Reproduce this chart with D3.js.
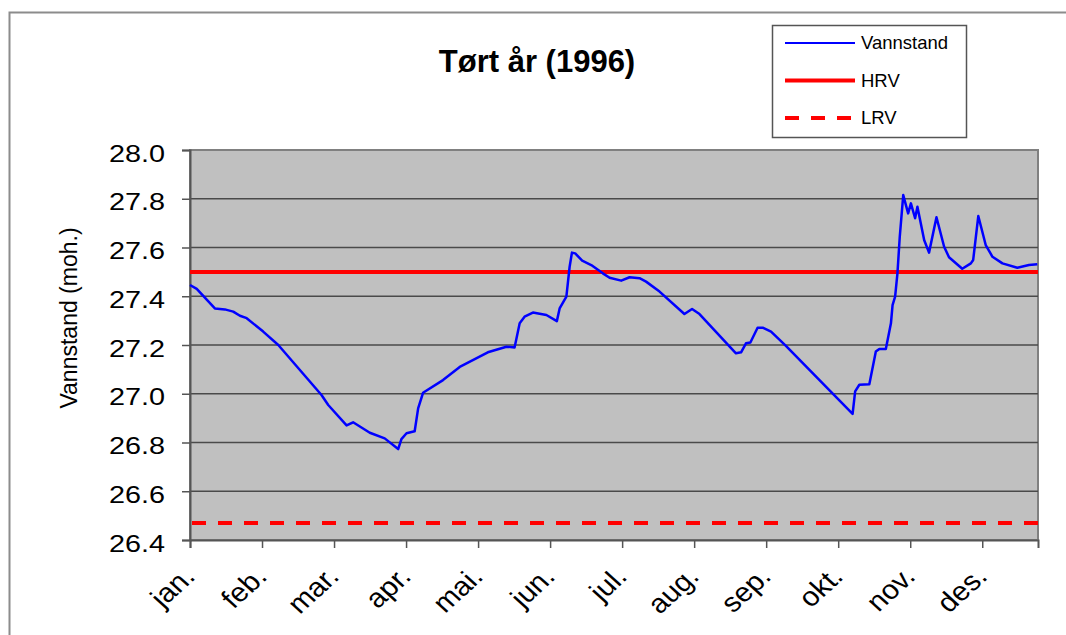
<!DOCTYPE html>
<html>
<head>
<meta charset="utf-8">
<script src="https://cdn.jsdelivr.net/npm/d3@7"></script>
<style>
  body { margin: 0; background: #fff; }
  text { font-family: "Liberation Sans", Arial, sans-serif; }
</style>
</head>
<body>
<div id="chart"></div>
<script>
// data: day of year (0 = 1 jan) and water level
var days = [0, 2.9, 10.7, 15, 18.6, 21.5, 24.4, 31.5, 38, 56.6, 59.5, 67.4, 70.2, 77.4, 83.8, 89.6,
  91, 93.2, 96.7, 98.2, 100.3, 108.9, 116.1, 128.2, 136.2, 139.7, 141.9, 144, 147.6, 153.4, 157.9,
  159.1, 162, 163.4, 164.4, 165.8, 168.8, 172.7, 177.7, 180.6, 185.6, 189.2, 193.5, 196.3, 202.1,
  212.8, 216.1, 219.3, 235, 237.2, 239.3, 241.2, 244.3, 246.5, 250.1, 256.5, 285.2, 286.3, 288.1,
  292.4, 295.2, 296.7, 299.5, 301.7, 302.4, 303.5, 304.5, 305.5, 307, 309.1, 310.3, 312.1, 313.1,
  316, 318.1, 321.3, 324.6, 326.7, 332.4, 336.1, 337.1, 339.3, 342.5, 345.4, 349.7, 356.1, 361.1, 364.7];
var vannstand = [27.446, 27.43, 27.35, 27.346, 27.337, 27.32, 27.31, 27.255, 27.2, 26.995, 26.954, 26.87,
  26.883, 26.84, 26.817, 26.773, 26.814, 26.838, 26.846, 26.94, 27.004, 27.056, 27.11, 27.17, 27.193,
  27.19, 27.289, 27.316, 27.333, 27.323, 27.298, 27.35, 27.398, 27.521, 27.579, 27.576, 27.546, 27.528,
  27.494, 27.476, 27.464, 27.478, 27.474, 27.46, 27.419, 27.327, 27.348, 27.327, 27.166, 27.17, 27.207,
  27.21, 27.271, 27.271, 27.255, 27.196, 26.917, 27.01, 27.037, 27.039, 27.173, 27.184, 27.184, 27.289,
  27.364, 27.398, 27.494, 27.644, 27.815, 27.74, 27.781, 27.72, 27.767, 27.631, 27.579, 27.724, 27.603,
  27.56, 27.513, 27.535, 27.549, 27.729, 27.61, 27.562, 27.535, 27.517, 27.528, 27.531];
var hrv = 27.5;
var lrv = 26.47;
var months = ['jan.', 'feb.', 'mar.', 'apr.', 'mai.', 'jun.', 'jul.', 'aug.', 'sep.', 'okt.', 'nov.', 'des.'];
var monthTickDays = [0, 31, 62, 93, 124, 155, 186, 217, 248, 279, 310, 341];
var yTicks = [26.4, 26.6, 26.8, 27.0, 27.2, 27.4, 27.6, 27.8, 28.0];
var legendNames = ['Vannstand', 'HRV', 'LRV'];

var width = 1066, height = 635;
var plotLeft = 190, plotRight = 1038, plotTop = 150, plotBottom = 540;

var svg = d3.select('#chart').append('svg')
  .attr('width', width)
  .attr('height', height);

svg.append('rect').attr('width', width).attr('height', height).attr('fill', '#fff');

// outer chart border
svg.append('rect')
  .attr('x', 9.5).attr('y', 12.5)
  .attr('width', 1200).attr('height', 800)
  .attr('fill', 'none')
  .attr('stroke', '#8c8c8c')
  .attr('stroke-width', 2);

var x = d3.scaleLinear().domain([0, 365]).range([plotLeft, plotRight]);
var y = d3.scaleLinear().domain([26.4, 28.0]).range([plotBottom, plotTop]);

// plot area
svg.append('rect')
  .attr('x', plotLeft).attr('y', plotTop)
  .attr('width', plotRight - plotLeft).attr('height', plotBottom - plotTop)
  .attr('fill', '#c0c0c0')
  .attr('stroke', '#808080')
  .attr('stroke-width', 2);

// grid lines
svg.append('g').selectAll('line')
  .data(yTicks.slice(1, -1))
  .enter().append('line')
  .attr('x1', plotLeft).attr('x2', plotRight)
  .attr('y1', function (d) { return y(d); })
  .attr('y2', function (d) { return y(d); })
  .attr('stroke', '#4a4a4a')
  .attr('stroke-width', 1.5);

// y axis
var yAxis = svg.append('g')
  .attr('transform', 'translate(' + plotLeft + ',0)')
  .call(d3.axisLeft(y).tickValues(yTicks).tickFormat(d3.format('.1f')).tickSize(8).tickPadding(6));
yAxis.select('.domain').attr('stroke', '#555').attr('stroke-width', 2);
yAxis.selectAll('.tick line').attr('stroke', '#555').attr('stroke-width', 1.5);
yAxis.selectAll('.tick text')
  .attr('font-size', 24)
  .attr('fill', '#000')
  .attr('x', null).attr('dy', null)
  .attr('dominant-baseline', 'central')
  .attr('transform', 'translate(-25,3) scale(1.2,1)');

// x axis
var xAxis = svg.append('g')
  .attr('transform', 'translate(0,' + plotBottom + ')')
  .call(d3.axisBottom(x).tickValues(monthTickDays)
    .tickFormat(function (d, i) { return months[i]; })
    .tickSize(8));
xAxis.select('.domain').attr('stroke', '#555').attr('stroke-width', 2);
xAxis.selectAll('.tick line').attr('stroke', '#555').attr('stroke-width', 1.5);
xAxis.selectAll('.tick text')
  .attr('font-size', 27)
  .attr('fill', '#000')
  .attr('y', null).attr('dy', null)
  .attr('text-anchor', 'end')
  .attr('transform', 'translate(6,38) scale(1.1,1) rotate(-45)');

// reference lines
svg.append('line')
  .attr('x1', plotLeft).attr('x2', plotRight)
  .attr('y1', y(hrv)).attr('y2', y(hrv))
  .attr('stroke', '#ff0000').attr('stroke-width', 4);
svg.append('line')
  .attr('x1', plotLeft + 2).attr('x2', plotRight)
  .attr('y1', y(lrv)).attr('y2', y(lrv))
  .attr('stroke', '#ff0000').attr('stroke-width', 4)
  .attr('stroke-dasharray', '14,12');

// water level line
var line = d3.line()
  .x(function (d, i) { return x(days[i]); })
  .y(function (d) { return y(d); });
svg.append('path')
  .datum(vannstand)
  .attr('d', line)
  .attr('fill', 'none')
  .attr('stroke', '#0000ff')
  .attr('stroke-width', 2.5)
  .attr('stroke-linejoin', 'round');

// title
svg.append('text')
  .attr('x', 537).attr('y', 72)
  .attr('text-anchor', 'middle')
  .attr('font-size', 31)
  .attr('font-weight', 'bold')
  .text('Tørt år (1996)');

// y axis title
svg.append('text')
  .attr('transform', 'translate(77,318) rotate(-90)')
  .attr('text-anchor', 'middle')
  .attr('font-size', 23)
  .text('Vannstand (moh.)');

// legend
var legend = svg.append('g');
legend.append('rect')
  .attr('x', 772.5).attr('y', 25.5)
  .attr('width', 194).attr('height', 112)
  .attr('fill', '#fff')
  .attr('stroke', '#555')
  .attr('stroke-width', 1.5);
var styles = [
  {color: '#0000ff', w: 2, dash: null},
  {color: '#ff0000', w: 4, dash: null},
  {color: '#ff0000', w: 4, dash: '14,12'}
];
legendNames.forEach(function (name, i) {
  var ly = 43 + i * 37.5;
  legend.append('line')
    .attr('x1', 785).attr('x2', 855)
    .attr('y1', ly).attr('y2', ly)
    .attr('stroke', styles[i].color)
    .attr('stroke-width', styles[i].w)
    .attr('stroke-dasharray', styles[i].dash);
  legend.append('text')
    .attr('x', 861).attr('y', ly)
    .attr('dy', '0.35em')
    .attr('font-size', 18.5)
    .text(name);
});
</script>
</body>
</html>
